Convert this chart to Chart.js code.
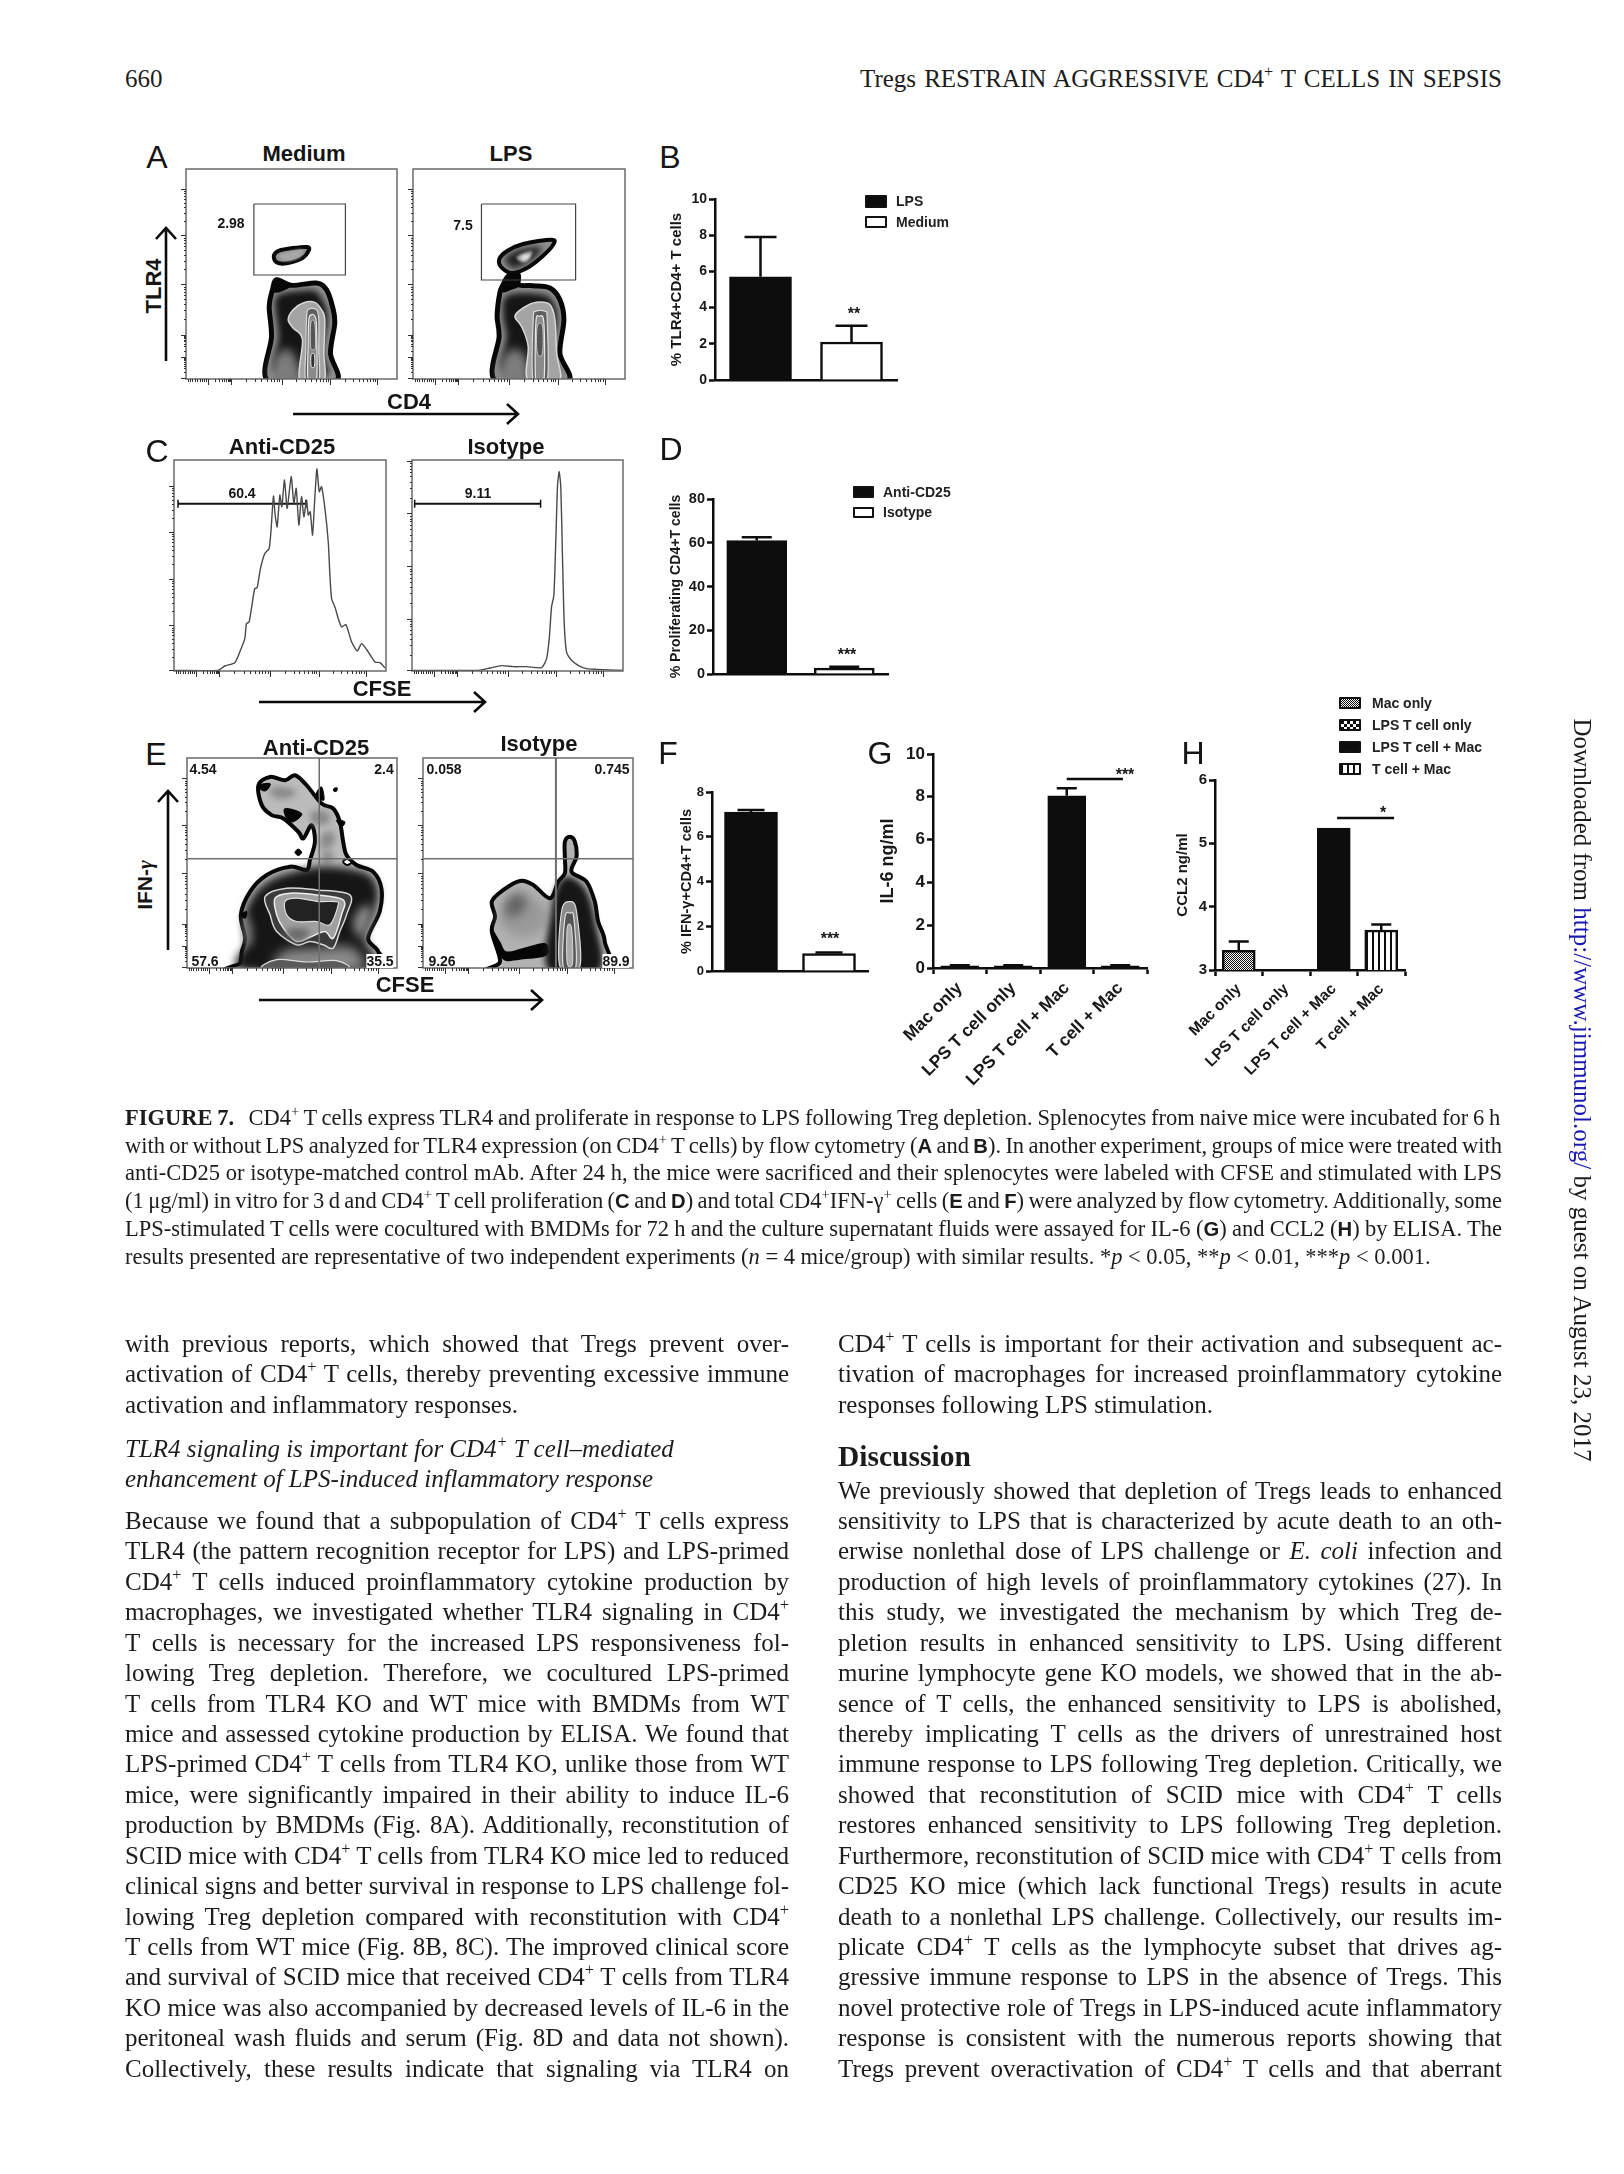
<!DOCTYPE html>
<html>
<head>
<meta charset="utf-8">
<title>Figure 7</title>
<script src="https://cdn.jsdelivr.net/npm/chart.js@4"></script>
<style>
  html, body { margin: 0; background: #fff; }
  #page { position: relative; width: 1624px; height: 2174px; overflow: hidden; background: #fff; color: #1c1c1c; font-family: "Liberation Serif", serif; }
  #page canvas { position: absolute; }
  #arrows { position: absolute; left: 0; top: 0; }
  .line { position: absolute; white-space: nowrap; transform: translateY(-50%); font-size: 25px; line-height: 1; }
  .cap { font-size: 22.5px; }
  .line sup { font-size: 65%; line-height: 0; }
  .line .s { font-family: "Liberation Sans", sans-serif; font-weight: bold; font-size: 90%; }
  .lab { position: absolute; white-space: nowrap; transform: translate(-50%, -50%); font-family: "Liberation Sans", sans-serif; font-weight: bold; color: #151515; line-height: 1; }
  .letter { font-weight: normal; font-size: 32px; }
  .swatch { position: absolute; box-sizing: border-box; border: 2px solid #111; border-radius: 1px; background-size: auto; }
  .legend { position: absolute; white-space: nowrap; transform: translateY(-50%); font-family: "Liberation Sans", sans-serif; font-weight: bold; font-size: 14px; color: #222; line-height: 1; }
</style>
</head>
<body>
<div id="page"></div>
<script>
// ===== bar panels =====
const catsB = ['LPS', 'Medium'];
const valsB = [5.7, 2.1];
const errB  = [7.9, 3.0];
const ticksB = { min: 0, max: 10, stepSize: 2 };

const catsD = ['Anti-CD25', 'Isotype'];
const valsD = [61, 2.7];
const errD  = [62.5, 3.3];
const ticksD = { min: 0, max: 80, stepSize: 20 };

const catsF = ['Anti-CD25', 'Isotype'];
const valsF = [7.1, 0.78];
const errF  = [7.2, 0.83];
const ticksF = { min: 0, max: 8, stepSize: 2 };

const catsG = ['Mac only', 'LPS T cell only', 'LPS T cell + Mac', 'T cell + Mac'];
const valsG = [0.1, 0.1, 8.05, 0.1];
const errG  = [0.13, 0.13, 8.4, 0.13];
const ticksG = { min: 0, max: 10, stepSize: 2 };

const catsH = ['Mac only', 'LPS T cell only', 'LPS T cell + Mac', 'T cell + Mac'];
const valsH = [3.31, null, 5.24, 3.63];
const errH  = [3.45, null, null, 3.72];
const ticksH = { min: 3, max: 6, stepSize: 1 };

// ===== flow plots: values are channels on unlabelled axes =====
const flowDecadesX = [67, 135, 288, 434, 575];
const flowDecadesY = [3, 65, 133, 285, 431, 571];
const histDecadesAnti = [2, 137, 277, 417, 555];
const histDecadesIso  = [2, 157, 314, 472, 630];

// C: CFSE histograms
const histAnti = [[0,2],[132,2],[152,15],[182,25],[197,57],[212,97],[217,142],[225,147],[235,207],[242,247],[249,249],[259,307],[272,352],[285,367],[291,427],[298,524],[303,467],[309,432],[317,527],[323,492],[331,572],[339,487],[351,582],[359,502],[366,547],[374,437],[382,522],[389,462],[397,512],[402,467],[408,477],[415,407],[420,487],[428,605],[435,537],[442,552],[452,487],[462,387],[467,287],[472,217],[482,192],[492,157],[502,132],[515,139],[532,87],[549,60],[562,82],[582,57],[602,27],[617,25],[632,9]];
const histIso = [[0,2],[200,2],[235,9],[270,16],[305,13],[345,13],[390,10],[405,37],[413,97],[420,192],[427,227],[433,397],[438,557],[443,597],[448,547],[453,337],[458,147],[465,57],[480,32],[500,17],[525,7],[555,5],[635,2]];
const gateAnti = [[12,501],[395,501]];
const gateIso  = [[8,501],[387,501]];

// A: TLR4 vs CD4, Medium
const medGate  = [[204,525],[479,525],[479,312],[204,312],[204,525]];
const medBlob  = [[264,370],[280,385],[322,393],[364,396],[369,386],[350,363],[302,347],[272,350]];
const medBlob2 = [[280,372],[322,384],[352,386],[340,364],[300,354]];
const medOuter = [[249,-10],[257,128],[250,218],[260,268],[272,298],[317,281],[392,288],[422,268],[440,218],[447,168],[434,78],[447,-10]];
const medWedge = [[262,262],[272,298],[295,288],[318,280],[285,262]];
const medDark  = [[270,20],[278,128],[268,215],[275,250],[320,262],[385,265],[405,245],[422,210],[425,168],[410,80],[420,10]];
const medLight = [[262,-5],[265,60],[300,90],[325,70],[345,-5]];
const medPeak  = [[307,178],[322,208],[352,228],[387,230],[407,208],[417,178],[414,78],[414,-5],[342,-5],[350,118],[322,153]];
const medRing1 = [[362,178],[367,208],[392,208],[399,178],[399,88],[399,-5],[360,-5],[360,88]];
const medRing2 = [[369,178],[377,193],[387,188],[392,158],[392,-5],[367,-5],[367,98]];
const medCore1 = [[375,168],[387,168],[389,98],[382,88],[374,98]];
const medCore2 = [[376,73],[386,73],[386,38],[376,38]];

// A: TLR4 vs CD4, LPS
const lpsGate  = [[205,525],[487,525],[487,297],[205,297],[205,525]];
const lpsOuter = [[250,-10],[258,128],[252,188],[260,258],[270,283],[285,308],[315,313],[318,283],[360,280],[410,273],[440,238],[452,178],[440,78],[460,-10]];
const lpsNeck  = [[268,262],[285,310],[315,315],[318,280],[295,268]];
const lpsTop   = [[258,358],[282,384],[330,405],[415,418],[420,403],[388,368],[348,337],[300,318],[268,332]];
const lpsTop2  = [[275,358],[295,378],[335,392],[385,395],[370,368],[335,345],[300,332]];
const lpsTop3  = [[310,365],[335,380],[358,382],[345,355],[325,350]];
const lpsTop4  = [[322,365],[338,374],[352,372],[340,358],[328,356]];
const lpsDark  = [[272,20],[280,128],[270,185],[276,245],[330,258],[400,250],[422,225],[432,178],[418,80],[430,10]];
const lpsLight = [[262,-5],[268,60],[300,90],[335,70],[345,-5]];
const lpsPeak  = [[305,188],[330,213],[370,230],[410,223],[425,178],[430,78],[438,-5],[345,-5],[345,98],[325,158]];
const lpsRing1 = [[360,178],[368,203],[395,203],[402,178],[402,-5],[360,-5]];
const lpsRing2 = [[368,168],[378,188],[392,168],[392,-5],[368,-5]];
const lpsCore  = [[372,158],[388,158],[388,78],[372,78]];

// E: IFN-gamma vs CFSE, Anti-CD25
const eaCrossH = [[0,329],[632,329]];
const eaCrossV = [[398,0],[398,632]];
const eaOuter = [[140,-10],[160,15],[165,50],[175,90],[162,160],[190,230],[240,280],[310,305],[360,295],[370,325],[385,380],[375,430],[350,390],[335,410],[290,450],[255,460],[225,490],[215,550],[250,575],[295,565],[325,580],[360,550],[405,495],[440,480],[460,440],[470,380],[480,340],[510,310],[560,290],[585,240],[580,170],[545,90],[575,50],[575,-10]];
const eaBlots = [
  [[250,540],[290,545],[330,530],[300,510],[260,515]],
  [[375,470],[420,470],[430,440],[400,430],[375,440]],
  [[405,400],[440,410],[440,370],[405,360]],
  [[410,350],[440,345],[435,320],[410,320]],
];
const eaDark  = [[170,-5],[180,80],[175,160],[200,220],[250,265],[320,290],[400,305],[480,300],[550,280],[575,230],[565,170],[535,90],[550,-5]];
const eaPatchR = [[500,140],[530,185],[555,180],[545,130],[520,90]];
const eaPatchL = [[172,150],[190,140],[195,80],[180,70]];
const eaBase  = [[280,-5],[290,50],[400,60],[500,60],[520,-5]];
const eaRing1 = [[235,215],[300,240],[390,235],[490,220],[480,160],[460,110],[440,60],[410,70],[370,80],[330,70],[270,110],[250,160]];
const eaRing2 = [[265,210],[310,225],[390,220],[470,205],[465,160],[440,90],[415,110],[375,95],[330,80],[290,120],[270,160]];
const eaCore  = [[295,200],[330,210],[395,200],[445,200],[455,190],[430,130],[390,140],[330,140],[300,160]];
const eaLow   = [[295,110],[330,120],[370,110],[340,80],[310,90]];
const eaFoot  = [[235,-5],[270,25],[360,18],[450,22],[475,-5]];
const eaSpots = [
  [[215,550],[250,555],[240,535],[225,535]],
  [[295,480],[345,465],[320,440],[300,450]],
  [[405,545],[412,505],[388,520]],
  [[325,348],[335,358],[345,348],[335,338]],
  [[450,445],[475,440],[465,425]],
  [[162,160],[180,170],[175,150]],
  [[442,540],[452,542],[450,532],[442,532]],
];
const eaHole  = [[470,320],[482,328],[495,318],[482,310]];

// E: IFN-gamma vs CFSE, Isotype
const eiCrossH = [[0,329],[632,329]];
const eiCrossV = [[400,0],[400,632]];
const eiOuter = [[202,-10],[232,20],[207,110],[217,155],[207,200],[242,235],[292,262],[332,250],[382,210],[407,260],[427,285],[427,330],[427,380],[442,395],[457,380],[462,335],[447,290],[492,260],[517,200],[527,140],[547,80],[537,-10]];
const eiMid   = [[232,160],[282,220],[362,190],[372,130],[302,90],[242,120]];
const eiMid2  = [[252,200],[287,225],[312,200],[287,160],[252,160]];
const eiBlob  = [[207,120],[232,80],[252,50],[302,60],[362,75],[377,60],[367,35],[292,25],[242,25],[212,80]];
const eiDark  = [[377,-5],[387,170],[402,240],[432,275],[467,260],[497,220],[517,140],[532,-5]];
const eiRing1 = [[412,5],[417,170],[442,200],[462,170],[472,5]];
const eiRing2 = [[422,5],[427,150],[442,165],[454,150],[460,5]];
const eiCore  = [[434,15],[434,120],[447,120],[450,15]];

// ===== page text =====
const runningHead = 'Tregs RESTRAIN AGGRESSIVE CD4<sup>+</sup> T CELLS IN SEPSIS';
const captionLines = [
  '<b>FIGURE 7.</b>&nbsp;&nbsp; CD4<sup>+</sup> T cells express TLR4 and proliferate in response to LPS following Treg depletion. Splenocytes from naive mice were incubated for 6 h',
  'with or without LPS analyzed for TLR4 expression (on CD4<sup>+</sup> T cells) by flow cytometry (<span class="s">A</span> and <span class="s">B</span>). In another experiment, groups of mice were treated with',
  'anti-CD25 or isotype-matched control mAb. After 24 h, the mice were sacrificed and their splenocytes were labeled with CFSE and stimulated with LPS',
  '(1 μg/ml) in vitro for 3 d and CD4<sup>+</sup> T cell proliferation (<span class="s">C</span> and <span class="s">D</span>) and total CD4<sup>+</sup>IFN-γ<sup>+</sup> cells (<span class="s">E</span> and <span class="s">F</span>) were analyzed by flow cytometry. Additionally, some',
  'LPS-stimulated T cells were cocultured with BMDMs for 72 h and the culture supernatant fluids were assayed for IL-6 (<span class="s">G</span>) and CCL2 (<span class="s">H</span>) by ELISA. The',
  'results presented are representative of two independent experiments (<i>n</i> = 4 mice/group) with similar results. *<i>p</i> &lt; 0.05, **<i>p</i> &lt; 0.01, ***<i>p</i> &lt; 0.001.',
];
const leftTop = [
  'with previous reports, which showed that Tregs prevent over-',
  'activation of CD4<sup>+</sup> T cells, thereby preventing excessive immune',
  'activation and inflammatory responses.',
];
const leftHeading = [
  '<i>TLR4 signaling is important for CD4<sup>+</sup> T cell–mediated</i>',
  '<i>enhancement of LPS-induced inflammatory response</i>',
];
const leftBody = [
  'Because we found that a subpopulation of CD4<sup>+</sup> T cells express',
  'TLR4 (the pattern recognition receptor for LPS) and LPS-primed',
  'CD4<sup>+</sup> T cells induced proinflammatory cytokine production by',
  'macrophages, we investigated whether TLR4 signaling in CD4<sup>+</sup>',
  'T cells is necessary for the increased LPS responsiveness fol-',
  'lowing Treg depletion. Therefore, we cocultured LPS-primed',
  'T cells from TLR4 KO and WT mice with BMDMs from WT',
  'mice and assessed cytokine production by ELISA. We found that',
  'LPS-primed CD4<sup>+</sup> T cells from TLR4 KO, unlike those from WT',
  'mice, were significantly impaired in their ability to induce IL-6',
  'production by BMDMs (Fig. 8A). Additionally, reconstitution of',
  'SCID mice with CD4<sup>+</sup> T cells from TLR4 KO mice led to reduced',
  'clinical signs and better survival in response to LPS challenge fol-',
  'lowing Treg depletion compared with reconstitution with CD4<sup>+</sup>',
  'T cells from WT mice (Fig. 8B, 8C). The improved clinical score',
  'and survival of SCID mice that received CD4<sup>+</sup> T cells from TLR4',
  'KO mice was also accompanied by decreased levels of IL-6 in the',
  'peritoneal wash fluids and serum (Fig. 8D and data not shown).',
  'Collectively, these results indicate that signaling via TLR4 on',
];
const rightTop = [
  'CD4<sup>+</sup> T cells is important for their activation and subsequent ac-',
  'tivation of macrophages for increased proinflammatory cytokine',
  'responses following LPS stimulation.',
];
const rightBody = [
  'We previously showed that depletion of Tregs leads to enhanced',
  'sensitivity to LPS that is characterized by acute death to an oth-',
  'erwise nonlethal dose of LPS challenge or <i>E. coli</i> infection and',
  'production of high levels of proinflammatory cytokines (27). In',
  'this study, we investigated the mechanism by which Treg de-',
  'pletion results in enhanced sensitivity to LPS. Using different',
  'murine lymphocyte gene KO models, we showed that in the ab-',
  'sence of T cells, the enhanced sensitivity to LPS is abolished,',
  'thereby implicating T cells as the drivers of unrestrained host',
  'immune response to LPS following Treg depletion. Critically, we',
  'showed that reconstitution of SCID mice with CD4<sup>+</sup> T cells',
  'restores enhanced sensitivity to LPS following Treg depletion.',
  'Furthermore, reconstitution of SCID mice with CD4<sup>+</sup> T cells from',
  'CD25 KO mice (which lack functional Tregs) results in acute',
  'death to a nonlethal LPS challenge. Collectively, our results im-',
  'plicate CD4<sup>+</sup> T cells as the lymphocyte subset that drives ag-',
  'gressive immune response to LPS in the absence of Tregs. This',
  'novel protective role of Tregs in LPS-induced acute inflammatory',
  'response is consistent with the numerous reports showing that',
  'Tregs prevent overactivation of CD4<sup>+</sup> T cells and that aberrant',
];

const page = document.getElementById('page');
const INK = '#0d0d0d';

// ---- text helpers ----
function addLine(html, x, y, width, cls) {
  const el = document.createElement('div');
  el.className = 'line' + (cls ? ' ' + cls : '');
  el.style.left = x + 'px';
  el.style.top = y + 'px';
  el.innerHTML = html;
  page.appendChild(el);
  if (width) {
    // stretch word gaps so the line ends on the column edge
    const natural = el.getBoundingClientRect().width;
    const gaps = (el.textContent.match(/ /g) || []).length;
    if (gaps) el.style.wordSpacing = ((width - natural) / gaps) + 'px';
  }
  return el;
}

function addLines(lines, x, firstY, step, width, lastIsShort, cls) {
  lines.forEach((t, i) => {
    const w = lastIsShort && i === lines.length - 1 ? 0 : width;
    addLine(t, x, firstY + i * step, w, cls);
  });
}

function lab(text, cx, cy, size, rotate) {
  const el = document.createElement('div');
  el.className = 'lab';
  el.style.left = cx + 'px';
  el.style.top = cy + 'px';
  el.style.fontSize = size + 'px';
  if (rotate) el.style.transform = `translate(-50%,-50%) rotate(${rotate}deg)`;
  el.innerHTML = text;
  page.appendChild(el);
  return el;
}

function letter(text, cx, cy) {
  lab(text, cx, cy, 32).classList.add('letter');
}

function swatch(x, y, w, h, bg) {
  const el = document.createElement('div');
  el.className = 'swatch';
  el.style.cssText = `left:${x}px;top:${y}px;width:${w}px;height:${h}px;background:${bg}`;
  page.appendChild(el);
}

function legendText(text, x, y) {
  const el = document.createElement('div');
  el.className = 'legend';
  el.style.left = x + 'px';
  el.style.top = y + 'px';
  el.textContent = text;
  page.appendChild(el);
}

// ---- fill patterns for panel H ----
function tile(size, paint) {
  const c = document.createElement('canvas');
  c.width = c.height = size;
  const g = c.getContext('2d');
  g.fillStyle = '#fff';
  g.fillRect(0, 0, size, size);
  g.fillStyle = INK;
  paint(g);
  return c;
}
const ditherTile = tile(2, g => { g.fillRect(0, 0, 1, 1); g.fillRect(1, 1, 1, 1); });
const checkTile  = tile(6, g => { g.fillRect(0, 0, 3, 3); g.fillRect(3, 3, 3, 3); });
const stripeTile = tile(6, g => { g.fillRect(0, 0, 2, 6); });
const tileUrl = c => `url(${c.toDataURL()})`;

// ===== Chart.js plugins =====
const errorBars = {
  id: 'errorBars',
  afterDatasetsDraw(chart) {
    const ds = chart.data.datasets[0];
    const meta = chart.getDatasetMeta(0);
    const y = chart.scales.y;
    const g = chart.ctx;
    g.save();
    g.strokeStyle = INK;
    g.lineWidth = 2.5;
    (ds.errTop || []).forEach((v, i) => {
      if (v == null) return;
      const bar = meta.data[i];
      const top = y.getPixelForValue(v);
      const half = ds.capWidth / 2;
      g.beginPath();
      g.moveTo(bar.x, y.getPixelForValue(ds.data[i]));
      g.lineTo(bar.x, top);
      g.moveTo(bar.x - half, top);
      g.lineTo(bar.x + half, top);
      g.stroke();
    });
    if (ds.sig) {
      const x = chart.scales.x;
      const py = y.getPixelForValue(ds.sig.y);
      g.beginPath();
      g.moveTo(x.getPixelForValue(ds.sig.from), py);
      g.lineTo(x.getPixelForValue(ds.sig.to), py);
      g.stroke();
    }
    g.restore();
  },
};

// closed smooth shape through a dataset's points, filled in dataset order
const contours = {
  id: 'contours',
  beforeDatasetsDraw(chart) {
    const { ctx: g, chartArea: a, scales: { x, y } } = chart;
    g.save();
    g.beginPath();
    g.rect(a.left, a.top, a.right - a.left, a.bottom - a.top);
    g.clip();
    chart.data.datasets.forEach(ds => {
      if (!ds.shape) return;
      const p = ds.data.map(d => [x.getPixelForValue(d.x), y.getPixelForValue(d.y)]);
      const n = p.length;
      const at = i => p[(i + n) % n];
      g.beginPath();
      g.moveTo(...p[0]);
      for (let i = 0; i < n; i++) {
        const [p0, p1, p2, p3] = [at(i - 1), at(i), at(i + 1), at(i + 2)];
        g.bezierCurveTo(
          p1[0] + (p2[0] - p0[0]) / 6, p1[1] + (p2[1] - p0[1]) / 6,
          p2[0] - (p3[0] - p1[0]) / 6, p2[1] - (p3[1] - p1[1]) / 6,
          p2[0], p2[1]
        );
      }
      g.closePath();
      g.filter = ds.shape.blur ? `blur(${ds.shape.blur}px)` : 'none';
      g.fillStyle = ds.shape.fill;
      g.fill();
      if (ds.shape.stroke) {
        g.strokeStyle = ds.shape.stroke;
        g.lineWidth = ds.shape.width || 1;
        g.lineJoin = 'round';
        g.stroke();
      }
      g.filter = 'none';
    });
    g.restore();
  },
};

// grey frame and log style ticks of a flow plot
const flowFrame = {
  id: 'flowFrame',
  afterDatasetsDraw(chart, args, opts) {
    const { ctx: g, chartArea: a, scales: { x, y } } = chart;
    g.save();
    g.strokeStyle = '#6a6a6a';
    g.lineWidth = 1.5;
    g.strokeRect(a.left, a.top, a.right - a.left, a.bottom - a.top);
    g.strokeStyle = '#333';
    g.lineWidth = 1;
    const tickX = (v, len) => { const px = Math.round(x.getPixelForValue(v)) + 0.5; g.beginPath(); g.moveTo(px, a.bottom); g.lineTo(px, a.bottom + len); g.stroke(); };
    const tickY = (v, len) => { const py = Math.round(y.getPixelForValue(v)) + 0.5; g.beginPath(); g.moveTo(a.left, py); g.lineTo(a.left - len, py); g.stroke(); };
    const minors = [0.3, 0.48, 0.6, 0.7, 0.78, 0.85, 0.9, 0.95];
    opts.xDecades.forEach((d, i) => {
      tickX(d, 6);
      const next = opts.xDecades[i + 1];
      if (next) minors.forEach(m => tickX(d + (next - d) * m, 3));
    });
    [5, 12, 19, 27, 34, 41, 48, 55, 60].forEach(v => tickX(v, 3));
    opts.yDecades.forEach((d, i) => {
      tickY(d, 5);
      const next = opts.yDecades[i + 1];
      if (next) minors.forEach(m => tickY(d + (next - d) * m, 2));
    });
    g.restore();
  },
};

// ===== chart builders =====
const xy = a => a.map(([x, y]) => ({ x, y }));
const shape = (pts, fill, extra) => ({ data: xy(pts), shape: { fill, ...extra }, showLine: false, pointRadius: 0 });
const rule = (pts, color, width) => ({ data: xy(pts), showLine: true, tension: 0, borderColor: color, borderWidth: width, pointRadius: 0, fill: false });

function makeCanvas(left, top, width, height) {
  const c = document.createElement('canvas');
  c.width = width;
  c.height = height;
  c.style.left = left + 'px';
  c.style.top = top + 'px';
  c.style.width = width + 'px';
  c.style.height = height + 'px';
  page.appendChild(c);
  return c;
}

// left/right/top/bottom are the edges of the plot frame on the page
function flowPlot(left, right, top, bottom, datasets, xDecades, yDecades, xMax, yMax) {
  const PAD = 12;
  const canvas = makeCanvas(left - PAD, top - 2, right - left + PAD + 2, bottom - top + PAD + 2);
  new Chart(canvas, {
    type: 'scatter',
    plugins: [contours, flowFrame],
    data: { datasets },
    options: {
      responsive: false,
      animation: false,
      devicePixelRatio: 1,
      layout: { autoPadding: false, padding: { left: PAD, bottom: PAD, top: 2, right: 2 } },
      plugins: { legend: { display: false }, tooltip: { enabled: false }, flowFrame: { xDecades, yDecades } },
      scales: {
        x: { display: false, min: 0, max: xMax },
        y: { display: false, min: 0, max: yMax },
      },
    },
  });
}

function barPanel(p) {
  const left = p.titleX - 10;
  const xh = p.rotated ? 125 : 4;
  const canvas = makeCanvas(left, p.top - 10, p.axisEnd + 3 - left, p.bottom - p.top + 10 + xh);
  new Chart(canvas, {
    type: 'bar',
    plugins: [errorBars],
    data: {
      labels: p.cats,
      datasets: [{
        data: p.vals,
        errTop: p.errs,
        capWidth: p.cap,
        sig: p.sig,
        backgroundColor: p.fills,
        borderColor: INK,
        borderWidth: 2.5,
        borderSkipped: 'bottom',
        barThickness: p.thick,
      }],
    },
    options: {
      responsive: false,
      animation: false,
      devicePixelRatio: 1,
      layout: { padding: { top: 10, right: 3 } },
      plugins: { legend: { display: false }, tooltip: { enabled: false } },
      scales: {
        x: {
          afterFit(s) { s.height = xh; s.paddingLeft = 0; s.paddingRight = 0; },
          grid: { display: !!p.rotated, drawOnChartArea: false, tickLength: 6, tickWidth: 2.5, tickColor: INK },
          border: { display: true, width: 2.5, color: INK },
          ticks: {
            display: !!p.rotated, autoSkip: false, minRotation: 45, maxRotation: 45, padding: 4,
            color: '#181818', font: { family: 'Liberation Sans', weight: 'bold', size: p.catSize },
          },
        },
        y: {
          ...p.range,
          ticks: {
            stepSize: p.range.stepSize, padding: 2, color: '#181818',
            font: { family: 'Liberation Sans', weight: 'bold', size: p.tickSize },
          },
          afterFit(s) { s.width = p.axisX - left; s.paddingTop = 0; s.paddingBottom = 0; },
          grid: { drawOnChartArea: false, tickLength: 6, tickWidth: 2.5, tickColor: INK },
          border: { display: true, width: 2.5, color: INK },
          title: {
            display: true, text: p.title, color: '#181818', padding: 0,
            font: { family: 'Liberation Sans', weight: 'bold', size: p.titleSize },
          },
        },
      },
    },
  });
}

function drawPage() {
  // running head
  addLine('660', 125, 78, 0);
  addLine(runningHead, 860, 78, 642);

  // panel A
  flowPlot(186, 397, 169, 379, [
    shape(medOuter, '#8f8f8f', { stroke: '#070707', width: 5 }),
    shape(medDark, '#151515', { blur: 3 }),
    shape(medLight, '#7d7d7d', { blur: 5 }),
    shape(medWedge, '#070707'),
    shape(medPeak, '#a4a4a4', { stroke: '#d8d8d8', width: 1.5 }),
    shape(medRing1, '#5e5e5e', { stroke: '#d8d8d8', width: 1.2 }),
    shape(medRing2, '#8a8a8a', { stroke: '#e8e8e8', width: 1.2 }),
    shape(medCore1, '#555', { stroke: '#ccc', width: 1 }),
    shape(medCore2, '#333', { stroke: '#eee', width: 1 }),
    shape(medBlob, '#8f8f8f', { stroke: '#070707', width: 4 }),
    shape(medBlob2, '#a8a8a8', { blur: 1.5 }),
    rule(medGate, '#444', 1.2),
  ], flowDecadesX, flowDecadesY, 634, 630);
  flowPlot(413, 625, 169, 379, [
    shape(lpsOuter, '#8f8f8f', { stroke: '#070707', width: 5 }),
    shape(lpsDark, '#151515', { blur: 3 }),
    shape(lpsLight, '#7d7d7d', { blur: 5 }),
    shape(lpsNeck, '#070707'),
    shape(lpsPeak, '#a4a4a4', { stroke: '#d8d8d8', width: 1.5 }),
    shape(lpsRing1, '#5e5e5e', { stroke: '#d8d8d8', width: 1.2 }),
    shape(lpsRing2, '#8a8a8a', { stroke: '#e8e8e8', width: 1.2 }),
    shape(lpsCore, '#555', { stroke: '#ccc', width: 1 }),
    shape(lpsTop, '#8f8f8f', { stroke: '#070707', width: 4 }),
    shape(lpsTop2, '#222', { blur: 3 }),
    shape(lpsTop3, '#999', { blur: 1 }),
    shape(lpsTop4, '#ddd', { blur: 1 }),
    rule(lpsGate, '#444', 1.2),
  ], flowDecadesX, flowDecadesY, 635, 630);
  letter('A', 157, 157);
  lab('Medium', 304, 154, 22);
  lab('LPS', 511, 154, 22);
  lab('2.98', 231, 223, 14);
  lab('7.5', 463, 225, 14);
  lab('TLR4', 154, 286, 22, -90);
  lab('CD4', 409, 402, 22);

  // panel B
  letter('B', 670, 157);
  barPanel({ cats: catsB, vals: valsB, errs: errB, range: ticksB, fills: [INK, '#fff'], axisX: 715, axisEnd: 897, top: 199, bottom: 380, titleX: 678, title: '% TLR4+CD4+ T cells', titleSize: 15, tickSize: 14, thick: 62, cap: 32 });
  swatch(865, 195, 22, 13, INK);
  swatch(865, 216, 22, 12, '#fff');
  legendText(catsB[0], 896, 201);
  legendText(catsB[1], 896, 222);
  lab('**', 854, 314, 16);

  // panel C
  const histLine = d => ({ data: xy(d), showLine: true, tension: 0.2, borderColor: '#4a4a4a', borderWidth: 1.4, pointRadius: 0, fill: false });
  const gateLine = d => ({ data: xy(d), showLine: true, borderColor: '#111', borderWidth: 1.8, pointStyle: 'line', pointRotation: 90, pointRadius: 4, pointBorderColor: '#111', pointBorderWidth: 1.5 });
  flowPlot(174, 386, 460, 671, [histLine(histAnti), gateLine(gateAnti)], flowDecadesX, histDecadesAnti, 635, 632);
  flowPlot(412, 623, 460, 671, [histLine(histIso), gateLine(gateIso)], flowDecadesX, histDecadesIso, 635, 632);
  letter('C', 157, 451);
  lab('Anti-CD25', 282, 447, 22);
  lab('Isotype', 506, 447, 22);
  lab('60.4', 242, 493, 14);
  lab('9.11', 478, 493, 14);
  lab('CFSE', 382, 689, 22);

  // panel D
  letter('D', 671, 449);
  barPanel({ cats: catsD, vals: valsD, errs: errD, range: ticksD, fills: [INK, '#fff'], axisX: 713, axisEnd: 888, top: 499, bottom: 674, titleX: 678, title: '% Proliferating CD4+T cells', titleSize: 14.1, tickSize: 14.5, thick: 60, cap: 30 });
  swatch(853, 486, 21, 12, INK);
  swatch(853, 507, 21, 11, '#fff');
  legendText(catsD[0], 883, 492);
  legendText(catsD[1], 883, 512);
  lab('***', 847, 655, 16);

  // panel E
  const cross = '#6e6e6e';
  flowPlot(187, 397, 758, 968, [
    shape(eaOuter, '#bcbcbc', { stroke: '#070707', width: 4 }),
    ...eaBlots.map(s => shape(s, '#8a8a8a', { blur: 3 })),
    shape(eaDark, '#161616', { blur: 4 }),
    shape(eaPatchR, '#8c8c8c', { blur: 5 }),
    shape(eaPatchL, '#808080', { blur: 4 }),
    shape(eaBase, '#8a8a8a', { blur: 6 }),
    shape(eaRing1, '#3c3c3c', { stroke: '#d8d8d8', width: 1.5 }),
    shape(eaRing2, '#a0a0a0', { stroke: '#eee', width: 1.5 }),
    shape(eaLow, '#6a6a6a', { blur: 3 }),
    shape(eaCore, '#222', { stroke: '#ddd', width: 1.2 }),
    shape(eaFoot, '#5a5a5a', { stroke: '#ddd', width: 1.2 }),
    ...eaSpots.map(s => shape(s, '#050505', { stroke: '#050505', width: 1 })),
    shape(eaHole, '#fff', { stroke: '#050505', width: 2 }),
    rule(eaCrossH, cross, 1.5),
    rule(eaCrossV, cross, 1.5),
  ], flowDecadesX, flowDecadesY, 632, 632);
  flowPlot(423, 633, 758, 968, [
    shape(eiOuter, '#b2b2b2', { stroke: '#070707', width: 4 }),
    shape(eiMid, '#9a9a9a', { blur: 5 }),
    shape(eiMid2, '#5c5c5c', { blur: 6 }),
    shape(eiBlob, '#050505', { blur: 0.6 }),
    shape(eiDark, '#161616', { blur: 3 }),
    shape(eiRing1, '#8a8a8a', { stroke: '#ddd', width: 1.2 }),
    shape(eiRing2, '#555', { stroke: '#ddd', width: 1.2 }),
    shape(eiCore, '#aaa', { stroke: '#ddd', width: 1 }),
    rule(eiCrossH, cross, 1.5),
    rule(eiCrossV, cross, 2),
  ], flowDecadesX, flowDecadesY, 632, 632);
  letter('E', 156, 754);
  lab('Anti-CD25', 316, 748, 22);
  lab('Isotype', 539, 744, 22);
  lab('IFN-<span style="font-family:\'Liberation Serif\';font-style:italic">γ</span>', 145, 885, 21, -90);
  lab('CFSE', 405, 985, 22);
  lab('4.54', 203, 769, 14);
  lab('2.4', 384, 769, 14);
  lab('57.6', 205, 961, 14);
  lab('35.5', 380, 961, 14).style.background = '#fff';
  lab('0.058', 444, 769, 14);
  lab('0.745', 612, 769, 14);
  lab('9.26', 442, 961, 14);
  lab('89.9', 616, 961, 14).style.background = '#fff';

  // panel F
  letter('F', 668, 753);
  barPanel({ cats: catsF, vals: valsF, errs: errF, range: ticksF, fills: [INK, '#fff'], axisX: 712, axisEnd: 868, top: 792, bottom: 971, titleX: 688, title: '% IFN-γ+CD4+T cells', titleSize: 14.6, tickSize: 13, thick: 53, cap: 27 });
  lab('***', 830, 939, 16);

  // panel G
  letter('G', 880, 753);
  barPanel({ cats: catsG, vals: valsG, errs: errG, range: ticksG, fills: [INK, INK, INK, INK], axisX: 933, axisEnd: 1147, top: 754, bottom: 968, titleX: 887, title: 'IL-6 ng/ml', titleSize: 18, tickSize: 17, catSize: 17.5, thick: 38, cap: 20, rotated: true, sig: { from: 2, to: 3.05, y: 8.83 } });
  lab('***', 1125, 775, 16);

  // panel H
  letter('H', 1193, 753);
  const probe = document.createElement('canvas').getContext('2d');
  const fillsH = [probe.createPattern(ditherTile, 'repeat'), probe.createPattern(checkTile, 'repeat'), INK, probe.createPattern(stripeTile, 'repeat')];
  barPanel({ cats: catsH, vals: valsH, errs: errH, range: ticksH, fills: fillsH, axisX: 1215, axisEnd: 1405, top: 780, bottom: 970, titleX: 1184, title: 'CCL2 ng/ml', titleSize: 15, tickSize: 15, catSize: 15.5, thick: 33, cap: 20, rotated: true, sig: { from: 2.07, to: 3.27, y: 5.4 } });
  lab('*', 1383, 813, 16);
  const swatchY = [697, 719, 741, 763];
  const swatchFill = [tileUrl(ditherTile), tileUrl(checkTile), INK, tileUrl(stripeTile)];
  catsH.forEach((c, i) => {
    swatch(1339, swatchY[i], 22, 12, swatchFill[i]);
    legendText(c, 1372, swatchY[i] + 6);
  });

  // arrows
  const NS = 'http://www.w3.org/2000/svg';
  const svg = document.createElementNS(NS, 'svg');
  svg.setAttribute('id', 'arrows');
  svg.setAttribute('width', 1624);
  svg.setAttribute('height', 2174);
  const arrowPaths = [
    'M166 361V228M156 239L166 228L176 239',
    'M293 414H518M507 404L518 414L507 424',
    'M259 702H485M474 692L485 702L474 712',
    'M168 950V791M158 802L168 791L178 802',
    'M259 1000H542M531 990L542 1000L531 1010',
  ];
  arrowPaths.forEach(d => {
    const path = document.createElementNS(NS, 'path');
    path.setAttribute('d', d);
    path.setAttribute('fill', 'none');
    path.setAttribute('stroke', '#0a0a0a');
    path.setAttribute('stroke-width', '2.6');
    svg.appendChild(path);
  });
  page.appendChild(svg);

  // caption
  addLines(captionLines, 125, 1118, 27.7, 1377, true, 'cap');

  // body text
  const L = 125, R = 838, COL = 664;
  addLines(leftTop, L, 1342.7, 30.43, COL, true);
  addLines(leftHeading, L, 1447.7, 30.6, 0);
  addLines(leftBody, L, 1520, 30.43, COL, false);
  addLines(rightTop, R, 1342.7, 30.43, COL, true);
  const disc = addLine('<b>Discussion</b>', R, 1456.5, 0);
  disc.style.fontSize = '29.5px';
  addLines(rightBody, R, 1489.5, 30.43, COL, false);

  // side note
  const side = addLine('Downloaded from <span style="color:#1a1ab0">http://www.jimmunol.org/</span> by guest on August 23, 2017', 1582, 1090, 0);
  side.style.transform = 'translate(-50%,-50%) rotate(90deg)';
}

drawPage();
</script>
</body>
</html>
